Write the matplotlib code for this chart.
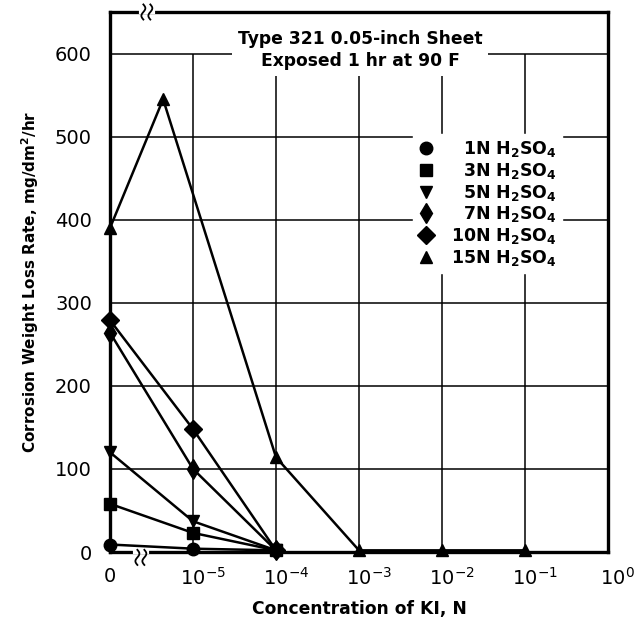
import numpy as np
import matplotlib
matplotlib.use('agg')
import matplotlib.pyplot as plt
import matplotlib.transforms as mtransforms

# positions on the KI axis: 0, 1e-5 ... 1e0 are evenly spaced slots
KI_TICKS = [0, 1, 2, 3, 4, 5, 6]
KI_LABELS = ['0', r'$\mathregular{10^{-5}}$', r'$\mathregular{10^{-4}}$', r'$\mathregular{10^{-3}}$',
             r'$\mathregular{10^{-2}}$', r'$\mathregular{10^{-1}}$', r'$\mathregular{10^{0}}$']
RATE_TICKS = [0, 100, 200, 300, 400, 500, 600]

# series (x in slot units, y in mg/dm2/hr)
x_1n = [0, 1, 2]
y_1n = [9, 4, 2]
x_3n = [0, 1, 2]
y_3n = [58, 23, 2]
x_5n = [0, 1, 2]
y_5n = [120, 37, 2]
x_7n = [0, 1, 2]
y_7n = [264, 100, 2]
x_10n = [0, 1, 2]
y_10n = [279, 148, 2]
x_15n = [0, 0.64, 2, 3, 4, 5]
y_15n = [390, 545, 114, 2, 2, 2]

series = [
    (x_1n, y_1n, 'o', 9, '1N'),
    (x_3n, y_3n, 's', 8.5, '3N'),
    (x_5n, y_5n, 'v', 9, '5N'),
    (x_7n, y_7n, 'd', 10, '7N'),
    (x_10n, y_10n, 'D', 9, '10N'),
    (x_15n, y_15n, '^', 9, '15N'),
]

FONT = 'DejaVu Sans'

fig = plt.figure(figsize=(6.4, 6.21), dpi=100)
ax = fig.add_axes([110/640, 1 - 552/621, 498/640, 540/621])
ax.set_xlim(0, 6)
ax.set_ylim(0, 650)

# grid drawn by hand: verticals stop at 600
ax.vlines(KI_TICKS[1:-1], 0, 600, color='black', lw=1.1, zorder=1)
ax.hlines(RATE_TICKS[1:], 0, 6, color='black', lw=1.1, zorder=1)

for xs, ys, mk, ms, lab in series:
    pad = '\u2007' if len(lab) == 2 else ''
    ax.plot(xs, ys, color='black', lw=1.8, marker=mk, ms=ms,
            label=pad + lab + r' H$_\mathregular{2}$SO$_\mathregular{4}$',
            clip_on=False, zorder=4)

for s in ax.spines.values():
    s.set_linewidth(2.4)

ax.set_xticks(KI_TICKS)
ax.set_xticklabels(KI_LABELS)
ax.set_yticks(RATE_TICKS)
ax.tick_params(length=0, labelsize=14)
ax.tick_params(axis='x', pad=11)
ax.tick_params(axis='y', pad=13)
for lbl in ax.get_yticklabels() + ax.get_xticklabels():
    lbl.set_family(FONT)
# powers of ten sit with the "10" on the grid line
shift = mtransforms.ScaledTranslation(7/72, 0, fig.dpi_scale_trans)
for lbl in ax.get_xticklabels()[1:]:
    lbl.set_transform(lbl.get_transform() + shift)

ax.set_xlabel('Concentration of KI, N', fontsize=12.3, fontweight='bold',
              family=FONT, labelpad=8)
ax.set_ylabel(r'Corrosion Weight Loss Rate, mg/dm$^\mathregular{2}$/hr', fontsize=11,
              fontweight='bold', family=FONT, labelpad=10)

ax.text(0.502, 0.93, 'Type 321 0.05-inch Sheet\nExposed 1 hr at 90 F',
        transform=ax.transAxes, ha='center', va='center', fontsize=12.3,
        fontweight='bold', family=FONT, linespacing=1.3, zorder=3,
        bbox=dict(facecolor='white', edgecolor='none', pad=4))

leg = ax.legend(loc='upper right', bbox_to_anchor=(0.925, 0.79), frameon=True,
                fancybox=False, edgecolor='white', framealpha=1, handlelength=0.9,
                handletextpad=1.0, labelspacing=0.1, borderpad=0.3,
                prop={'family': FONT, 'weight': 'bold', 'size': 12.5})
leg.set_zorder(3)
for h in leg.legend_handles:
    h.set_linestyle('none')

# axis break marks on the top and bottom frame
t = np.linspace(-1, 1, 30)
for x0, y0 in [(0.074, 1.0), (0.062, -0.01)]:
    ax.plot([x0 - 0.012, x0 + 0.012], [y0 if y0 > 0 else 0] * 2, color='white', lw=3,
            transform=ax.transAxes, clip_on=False, zorder=5)
    for dx in (-0.007, 0.007):
        ax.plot(x0 + dx + 0.004 * np.sin(np.pi * t), y0 + 0.014 * t, color='black', lw=1.3,
                transform=ax.transAxes, clip_on=False, zorder=6)

plt.savefig('out.png', dpi=100)
